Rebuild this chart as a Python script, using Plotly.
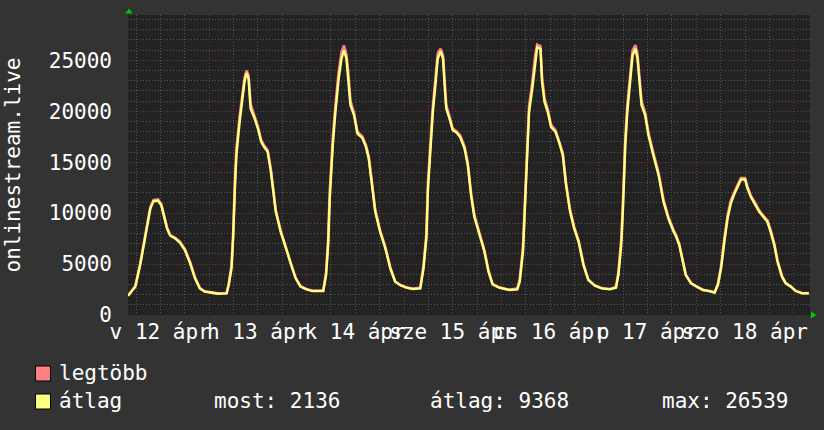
import plotly.graph_objects as go

# ---- data (hours since 00:00 of 12 April) ----
HOURS = [4.0, 5.8, 7.0, 8.25, 9.5, 10.3, 11.4, 12.2, 13.0, 13.6, 14.4, 15.6, 16.8, 18.0, 19.3, 20.5, 21.7, 22.9,
         24.6, 26.2, 28.3, 28.8, 29.5, 29.9, 30.3, 30.7, 31.5, 32.1, 32.7, 33.2, 33.7, 34.2, 35.2, 36.0, 36.8, 37.5,
         38.4, 39.2, 40.4, 41.6, 42.9, 44.1, 45.3, 46.5, 47.8, 49.4, 51.0, 52.1, 52.8, 53.3, 53.7, 54.1, 54.5, 55.1,
         55.9, 56.6, 57.2, 57.8, 58.3, 58.8, 59.7, 60.5, 61.7, 62.6, 63.3, 64.1, 64.9, 66.1, 67.4, 68.6, 69.8, 71.0,
         72.6, 74.2, 76.0, 76.8, 77.5, 77.9, 78.5, 79.1, 79.8, 80.3, 81.0, 81.6, 82.1, 82.4, 83.2, 84.0, 84.9, 85.8,
         86.9, 87.7, 88.5, 89.3, 90.5, 91.8, 92.8, 93.8, 95.4, 97.9, 99.9, 100.5, 101.3, 101.8, 102.2, 102.8, 103.6,
         104.3, 104.8, 105.6, 106.0, 106.6, 107.4, 108.2, 109.3, 110.3, 111.1, 111.9, 112.9, 113.9, 115.0, 116.2,
         117.4, 119.0, 120.7, 122.7, 124.2, 124.8, 125.5, 125.9, 126.2, 126.5, 127.0, 127.7, 128.3, 129.0, 129.5,
         130.0, 130.5, 131.4, 132.2, 133.4, 134.7, 135.9, 137.1, 138.4, 139.0, 139.8, 140.6, 141.4, 142.7, 144.0,
         145.6, 147.3, 148.5, 149.3, 150.1, 150.9, 151.7, 152.5, 153.4, 154.2, 155.0, 156.0, 156.6, 157.4, 158.5,
         159.5, 160.5, 161.5, 162.3, 163.2, 164.0, 165.1, 166.0, 167.3, 168.5, 170.1, 171.7]

ATLAG = [1880, 2780, 4900, 7500, 10450, 11180, 11210, 10780, 9480, 8500, 7780, 7520, 7090, 6370, 5070, 3600, 2610, 2290,
         2190, 2090, 2120, 2940, 4580, 7520, 12090, 15690, 18950, 21240, 22880, 23760, 23200, 20260, 19280, 18300, 17000, 16500,
         16010, 14050, 10130, 8170, 6540, 4900, 3600, 2780, 2550, 2350, 2350, 2350, 3920, 6860, 11440, 15030, 16990, 19940,
         23200, 25160, 25980, 25160, 23200, 20590, 19610, 17810, 17390, 16500, 15360, 12750, 10130, 8170, 6540, 4580, 3270, 2940,
         2680, 2550, 2610, 4580, 7520, 12420, 16670, 19940, 22880, 25160, 25880, 25160, 21900, 20260, 19280, 18140, 17910, 17480,
         16340, 14710, 11770, 9640, 8010, 6210, 4250, 3010, 2680, 2450, 2520, 3270, 6210, 10780, 15360, 19940, 22220,
         24840, 26300, 26140, 22880, 20920, 19940, 18460, 17970, 16830, 15690, 12750, 10130, 8500, 7190, 4900,
         3430, 2880, 2610, 2520, 2680, 3920, 6860, 10130, 13400, 16670, 19940, 23200, 25490, 26140, 25160,
         22880, 20590, 19610, 17650, 15690, 13730, 11110, 9480, 8170, 7700, 6860, 5230, 3920, 3110, 2780,
         2450, 2350, 2190, 2940, 4580, 7190, 9480, 10950, 11930, 12580, 13300, 13300, 12420, 11600, 10850,
         10130, 9640, 9150, 8170, 6860, 5230, 3760, 3110, 2780, 2350, 2120, 2136]

LEGTOBB = [1900, 2850, 5050, 7700, 10600, 11300, 11350, 10900, 9600, 8600, 7850, 7600, 7200, 6500, 5200, 3700, 2650, 2320,
           2220, 2120, 2160, 3050, 4900, 8000, 12800, 16300, 19500, 21700, 23300, 24000, 23500, 20700, 19500, 18500, 17200, 16650,
           16200, 14300, 10300, 8300, 6650, 5000, 3650, 2820, 2580, 2380, 2380, 2400, 4200, 7400, 12200, 15700, 17600, 20600,
           23900, 25800, 26450, 25600, 23700, 21000, 19800, 18000, 17550, 16700, 15600, 13000, 10350, 8300, 6650, 4700, 3320, 2970,
           2710, 2580, 2700, 4900, 8000, 13100, 17300, 20500, 23500, 25700, 26150, 25500, 22400, 20600, 19500, 18300, 18050, 17650,
           16550, 14950, 12000, 9850, 8150, 6350, 4350, 3060, 2710, 2480, 2600, 3500, 6700, 11500, 16000, 20500, 22900,
           25500, 26539, 26400, 23300, 21300, 20200, 18700, 18150, 17000, 15900, 13000, 10350, 8650, 7300, 5000,
           3480, 2910, 2640, 2550, 2750, 4200, 7400, 10900, 14100, 17300, 20600, 23900, 26000, 26500, 25600,
           23300, 21000, 19850, 17900, 15950, 13950, 11350, 9650, 8350, 7850, 6950, 5300, 3960, 3140, 2800,
           2480, 2380, 2240, 3050, 4800, 7500, 9800, 11250, 12150, 12800, 13450, 13450, 12600, 11750, 11000,
           10250, 9750, 9300, 8350, 7000, 5350, 3820, 3150, 2800, 2370, 2140, 2150]

DAY_TICKS = [24, 48, 72, 96, 120, 144, 168]
DAY_LABELS = ["v 12 ápr", "h 13 ápr", "k 14 ápr", "sze 15 ápr", "cs 16 ápr", "p 17 ápr", "szo 18 ápr"]
Y_TICKS = [0, 5000, 10000, 15000, 20000, 25000]
X_RANGE = [4, 172]
Y_RANGE = [0, 29450]

SERIES_NAMES = ["legtöbb", "átlag"]
STAT_MOST = 2136
STAT_ATLAG = 9368
STAT_MAX = 26539

# ---- style ----
FONT = "DejaVu Sans Mono"
FS = 21
PAPER = "#333333"
PLOT_BG = "#222222"
RED = "#FF8080"
YEL = "#FFFF80"
MAJOR_GRID = "rgb(125,50,50)"
MINOR_GRID = "rgb(85,85,85)"
GRID_DASH = "1px,2px"

fig = go.Figure()
fig.add_trace(go.Scatter(x=HOURS, y=LEGTOBB, mode="lines", line=dict(color=RED, width=2.6), name=SERIES_NAMES[0],
                         showlegend=False, hoverinfo="skip"))
fig.add_trace(go.Scatter(x=HOURS, y=ATLAG, mode="lines", line=dict(color=YEL, width=2.4), name=SERIES_NAMES[1],
                         showlegend=False, hoverinfo="skip"))

L, R, T, B = 124, 14, 15, 115
W, H = 824, 430
pw, ph = W - L - R, H - T - B


def px(x):
    return (x - L) / pw


def py(y):
    return (H - B - y) / ph


fig.update_layout(
    width=W, height=H,
    margin=dict(l=L, r=R, t=T, b=B, pad=0),
    paper_bgcolor=PAPER, plot_bgcolor=PLOT_BG,
    font=dict(family=FONT, size=FS, color="white"),
    showlegend=False,
    xaxis=dict(
        range=X_RANGE, tickmode="array", tickvals=DAY_TICKS, ticktext=DAY_LABELS,
        ticklabelshift=-49, ticklabelstandoff=2, tickangle=0, ticks="",
        showgrid=True, gridcolor=MAJOR_GRID, griddash=GRID_DASH, gridwidth=1,
        zeroline=False, showline=False,
        tickfont=dict(family=FONT, size=FS, color="white"),
        minor=dict(tick0=0, dtick=6, showgrid=True, gridcolor=MINOR_GRID, griddash=GRID_DASH, gridwidth=1, ticks=""),
        fixedrange=True,
    ),
    yaxis=dict(
        range=Y_RANGE, tickmode="array", tickvals=Y_TICKS, ticktext=[str(v) for v in Y_TICKS],
        ticks="", ticklabelstandoff=15,
        showgrid=True, gridcolor=MAJOR_GRID, griddash=GRID_DASH, gridwidth=1,
        zeroline=False, showline=False,
        tickfont=dict(family=FONT, size=FS, color="white"),
        minor=dict(tick0=0, dtick=1000, showgrid=True, gridcolor=MINOR_GRID, griddash=GRID_DASH, gridwidth=1, ticks=""),
        title=dict(text="onlinestream.live", font=dict(family=FONT, size=FS, color="white"), standoff=22),
        fixedrange=True,
    ),
)

shapes = []
# green arrows at axis ends
shapes.append(dict(type="path", xref="paper", yref="paper",
                   path=f"M {px(121.5)} {py(13.5)} L {px(128.5)} {py(13.5)} L {px(125)} {py(8.5)} Z",
                   fillcolor="#00CC00", line=dict(width=0)))
shapes.append(dict(type="path", xref="paper", yref="paper",
                   path=f"M {px(811)} {py(311.5)} L {px(811)} {py(318.5)} L {px(816.5)} {py(315)} Z",
                   fillcolor="#00CC00", line=dict(width=0)))
# legend swatches
shapes.append(dict(type="rect", xref="paper", yref="paper", x0=px(31), x1=px(46), y0=py(366), y1=py(381),
                   fillcolor=RED, line=dict(color="black", width=1)))
shapes.append(dict(type="rect", xref="paper", yref="paper", x0=px(31), x1=px(46), y0=py(394), y1=py(409),
                   fillcolor=YEL, line=dict(color="black", width=1)))
fig.update_layout(shapes=shapes)

anns = [
    (SERIES_NAMES[0], 54, 373),
    (SERIES_NAMES[1], 54, 401),
    (f"most: {STAT_MOST}", 209, 401),
    (f"átlag: {STAT_ATLAG}", 427, 401),
    (f"max: {STAT_MAX}", 660, 401),
]
for text, x, y in anns:
    fig.add_annotation(text=text, xref="paper", yref="paper", x=px(x), y=py(y), xanchor="left", yanchor="middle",
                       showarrow=False, font=dict(family=FONT, size=FS, color="white"), borderpad=0)

fig.write_html("out.html", config={"displayModeBar": False},
               post_script="document.body.style.margin='0';document.body.style.background='#333333';")
